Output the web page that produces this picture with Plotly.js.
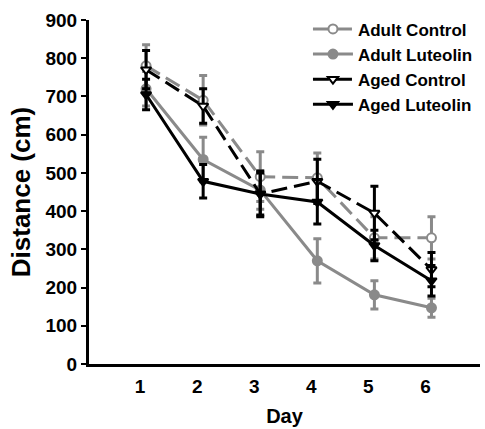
<!DOCTYPE html>
<html>
<head>
<meta charset="utf-8">
<script src="https://cdn.plot.ly/plotly-3.0.1.min.js"></script>
<style>html,body{margin:0;padding:0;background:#fff}#chart{width:485px;height:429px}</style>
</head>
<body>
<div id="chart"></div>
<script>
const days = [1, 2, 3, 4, 5, 6];
const adultControl = [780, 690, 490, 487, 330, 330];
const adultControlErr = [55, 65, 65, 65, 55, 55];
const adultLuteolin = [720, 535, 455, 270, 181, 147];
const adultLuteolinErr = [45, 58, 50, 58, 37, 25];
const agedControl = [770, 675, 445, 478, 395, 247];
const agedControlErr = [50, 45, 55, 58, 70, 45];
const agedLuteolin = [705, 478, 445, 424, 310, 218];
const agedLuteolinErr = [40, 44, 60, 58, 40, 40];

const gray = '#8a8a8a';
const black = '#000000';

function tr(name, y, err, color, dash, symbol, fill) {
  return {
    x: days, y: y, name: name, type: 'scatter', mode: 'lines+markers',
    line: {color: color, width: 3, dash: dash},
    marker: {symbol: symbol, size: 9, color: fill, line: {color: color, width: 2}},
    error_y: {type: 'data', array: err, visible: true, color: color, thickness: 3, width: 4}
  };
}

const data = [
  tr('Adult Control', adultControl, adultControlErr, gray, '16px,7px', 'circle', '#ffffff'),
  tr('Adult Luteolin', adultLuteolin, adultLuteolinErr, gray, 'solid', 'circle', gray),
  tr('Aged Control', agedControl, agedControlErr, black, '16px,7px', 'triangle-down', '#ffffff'),
  tr('Aged Luteolin', agedLuteolin, agedLuteolinErr, black, 'solid', 'triangle-down', black)
];

const fam = 'Liberation Sans, Arial, sans-serif';

const layout = {
  width: 485, height: 429,
  margin: {l: 89, r: 5, t: 20, b: 65},
  paper_bgcolor: '#fff', plot_bgcolor: '#fff',
  font: {family: fam, color: '#000', size: 15, weight: 'bold'},
  showlegend: true,
  legend: {x: 0.56, y: 1.025, xanchor: 'left', yanchor: 'top', bgcolor: 'rgba(0,0,0,0)',
           font: {family: fam, size: 17, color: '#000', weight: 'bold'},
           tracegroupgap: 0, itemwidth: 40},
  xaxis: {
    range: [0, 6.85], tickvals: days, ticktext: days.map(String),
    showline: true, linewidth: 3, linecolor: '#000', ticks: '', showgrid: false, zeroline: false,
    ticklabelshift: -6, ticklabelstandoff: 3,
    tickfont: {family: fam, size: 19, color: '#000', weight: 'bold'},
    title: {text: 'Day', standoff: 14, font: {family: fam, size: 20, color: '#000', weight: 'bold'}}
  },
  yaxis: {
    range: [0, 900], tickvals: [0,100,200,300,400,500,600,700,800,900],
    showline: true, linewidth: 3, linecolor: '#000', ticks: 'outside', ticklen: 5, tickwidth: 2, tickcolor: '#000',
    showgrid: false, zeroline: false,
    tickfont: {family: fam, size: 19, color: '#000', weight: 'bold'},
    title: {text: 'Distance (cm)', standoff: 8, font: {family: fam, size: 26, color: '#000', weight: 'bold'}}
  }
};

Plotly.newPlot('chart', data, layout, {staticPlot: true, displayModeBar: false});
</script>
</body>
</html>
